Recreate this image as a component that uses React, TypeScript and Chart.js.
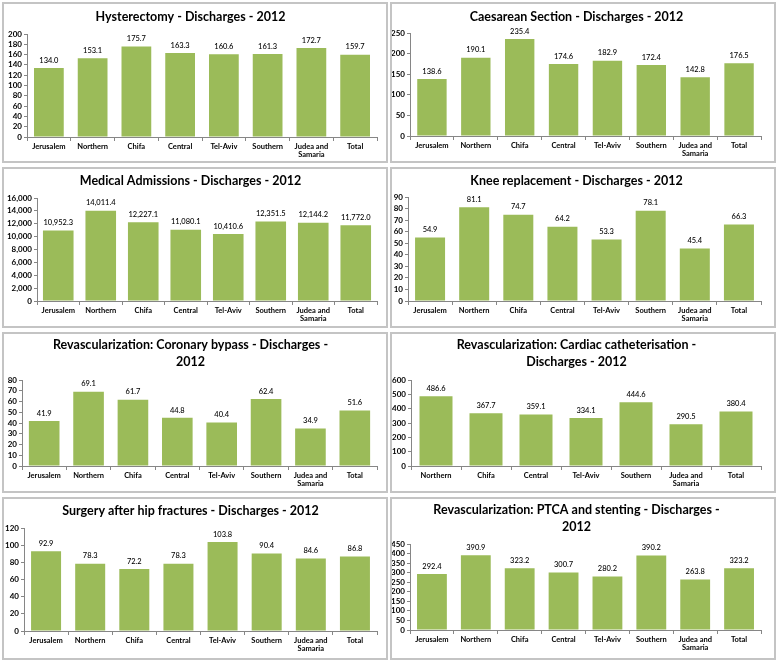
import React, { useEffect, useRef } from 'react';
import { Chart, registerables } from 'chart.js';

Chart.register(...registerables);

// ---------- data ----------
const regions8: (string | string[])[] = ['Jerusalem', 'Northern', 'Chifa', 'Central', 'Tel-Aviv', 'Southern', ['Judea and', 'Samaria'], 'Total'];
const regions7: (string | string[])[] = ['Northern', 'Chifa', 'Central', 'Tel-Aviv', 'Southern', ['Judea and', 'Samaria'], 'Total'];

const hysterectomy = [134.0, 153.1, 175.7, 163.3, 160.6, 161.3, 172.7, 159.7];
const caesarean = [138.6, 190.1, 235.4, 174.6, 182.9, 172.4, 142.8, 176.5];
const medicalAdmissions = [10952.3, 14011.4, 12227.1, 11080.1, 10410.6, 12351.5, 12144.2, 11772.0];
const kneeReplacement = [54.9, 81.1, 74.7, 64.2, 53.3, 78.1, 45.4, 66.3];
const coronaryBypass = [41.9, 69.1, 61.7, 44.8, 40.4, 62.4, 34.9, 51.6];
const cardiacCath = [486.6, 367.7, 359.1, 334.1, 444.6, 290.5, 380.4];
const hipFractures = [92.9, 78.3, 72.2, 78.3, 103.8, 90.4, 84.6, 86.8];
const ptcaStenting = [292.4, 390.9, 323.2, 300.7, 280.2, 390.2, 263.8, 323.2];

const titles: string[][] = [
  ['Hysterectomy - Discharges - 2012'],
  ['Caesarean Section - Discharges - 2012'],
  ['Medical Admissions - Discharges - 2012'],
  ['Knee replacement - Discharges - 2012'],
  ['Revascularization: Coronary bypass - Discharges -', '2012'],
  ['Revascularization: Cardiac catheterisation -', 'Discharges - 2012'],
  ['Surgery after hip fractures - Discharges - 2012'],
  ['Revascularization: PTCA and stenting - Discharges -', '2012'],
];
const yMax = [200, 250, 16000, 90, 80, 600, 120, 450];
const yStep = [20, 50, 2000, 10, 10, 100, 20, 50];

// ---------- layout / style ----------
const BAR = '#9BBB59';
const AXIS = '#868686';
const FONT = 'Lato, "Open Sans", sans-serif';
const BORDER = 2;

// panel boxes (outer) : [left, top, width, height]
const boxes = [
  [2, 2, 386, 161], [390, 2, 386, 161],
  [2, 167, 386, 161], [390, 167, 386, 161],
  [2, 332, 386, 161], [390, 332, 386, 161],
  [2, 497, 386, 163], [390, 497, 386, 163],
];
// absolute page geometry: axisX, plotTop, zeroY, plotRight, titleY, barFraction
const geom = [
  [27, 34, 137, 377, 17, 0.68],
  [410, 33, 136, 761, 17, 0.67],
  [37, 198, 301, 377, 181, 0.72],
  [408, 197, 301, 761, 181, 0.68],
  [22, 380, 466, 377, 345, 0.69],
  [411, 380, 466, 761, 345, 0.66],
  [24, 528, 631, 377, 511, 0.68],
  [410, 544, 630, 761, 510, 0.68],
];

const seriesList = [hysterectomy, caesarean, medicalAdmissions, kneeReplacement, coronaryBypass, cardiacCath, hipFractures, ptcaStenting];
const labelsList = [regions8, regions8, regions8, regions8, regions8, regions7, regions8, regions8];

const fmtVal = (v: number) => v.toLocaleString('en-US', { minimumFractionDigits: 1, maximumFractionDigits: 1 });
const fmtTick = (v: number) => v.toLocaleString('en-US', { maximumFractionDigits: 0 });

const valueLabels = {
  id: 'valueLabels',
  afterDatasetsDraw(chart: any) {
    const ctx = chart.ctx;
    const meta = chart.getDatasetMeta(0);
    const data = chart.data.datasets[0].data as number[];
    ctx.save();
    ctx.font = `500 7.5px ${FONT}`;
    ctx.fillStyle = '#000';
    ctx.textAlign = 'center';
    ctx.textBaseline = 'bottom';
    meta.data.forEach((el: any, i: number) => {
      ctx.fillText(fmtVal(data[i]), el.x, el.y - 4);
    });
    ctx.restore();
  },
};

function Panel({ idx }: { idx: number }) {
  const ref = useRef<HTMLCanvasElement>(null);
  const [bl, bt, bw, bh] = boxes[idx];
  const cx = bl + BORDER;
  const cy = bt + BORDER;
  const cw = bw - 2 * BORDER;
  const ch = bh - 2 * BORDER;

  useEffect(() => {
    const [axisX, plotTop, zeroY, plotRight, titleY, frac] = geom[idx];
    const title = titles[idx];
    const titleSize = 12.5;
    const lh = titleSize * 1.35;
    const padTop = titleY - cy - lh / 2;
    const padBottom = plotTop - cy - (padTop + title.length * lh);
    const chart = new Chart(ref.current as HTMLCanvasElement, {
      type: 'bar',
      data: {
        labels: labelsList[idx] as any,
        datasets: [{
          data: seriesList[idx],
          backgroundColor: BAR,
          borderWidth: 0,
          barPercentage: frac,
          categoryPercentage: 1,
        }],
      },
      options: {
        responsive: false,
        animation: false,
        layout: { padding: { left: 0, top: 0, bottom: 0, right: cw - (plotRight - cx) } },
        plugins: {
          legend: { display: false },
          tooltip: { enabled: false },
          title: {
            display: true,
            text: title,
            color: '#000',
            font: { family: FONT, size: titleSize, weight: 'bold', lineHeight: 1.35 },
            padding: { top: padTop, bottom: padBottom },
          },
        },
        scales: {
          x: {
            grid: { display: true, drawOnChartArea: false, drawTicks: true, tickLength: 4, color: AXIS, offset: true },
            border: { display: true, color: AXIS },
            ticks: { color: '#000', font: { family: FONT, size: 7.5, weight: 'bold', lineHeight: 1.15 }, padding: 1, maxRotation: 0, autoSkip: false },
            afterFit: (s: any) => { s.height = ch - (zeroY - cy); },
          },
          y: {
            min: 0,
            max: yMax[idx],
            grid: { display: true, drawOnChartArea: false, drawTicks: true, tickLength: 3, color: AXIS },
            border: { display: true, color: AXIS },
            ticks: {
              stepSize: yStep[idx],
              autoSkip: false,
              color: '#000',
              font: { family: FONT, size: 8, weight: 'bold' },
              padding: 2,
              callback: (v: any) => fmtTick(Number(v)),
            },
            afterFit: (s: any) => { s.width = axisX - cx; },
          },
        },
      },
      plugins: [valueLabels],
    });
    return () => chart.destroy();
  }, []);

  return (
    <div style={{ position: 'absolute', left: bl, top: bt, width: bw, height: bh, boxSizing: 'border-box', border: `${BORDER}px solid #c4c4c4`, background: '#fff' }}>
      <canvas ref={ref} width={cw} height={ch} style={{ display: 'block', width: cw, height: ch }} />
    </div>
  );
}

export default function App() {
  return (
    <div style={{ position: 'absolute', left: 0, top: 0, width: 778, height: 662, background: '#fff', overflow: 'hidden' }}>
      {boxes.map((_, i) => <Panel key={i} idx={i} />)}
    </div>
  );
}
